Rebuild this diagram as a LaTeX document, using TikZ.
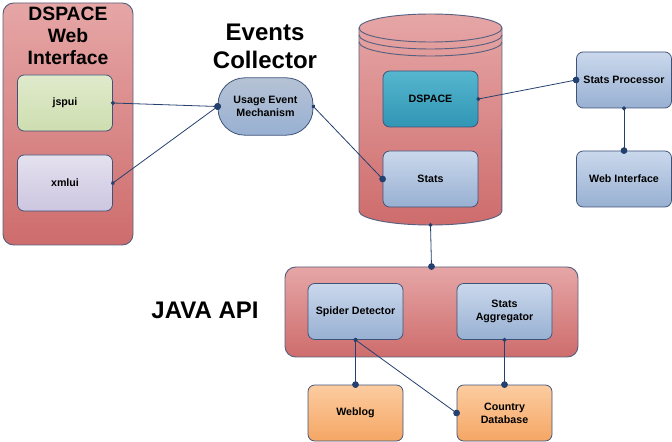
\documentclass[tikz,border=0pt]{standalone}
\usepackage{fontspec}
\setmainfont{Liberation Sans}
\usetikzlibrary{arrows.meta}

\definecolor{redtop}{RGB}{230,166,166}
\definecolor{redbot}{RGB}{206,108,108}
\definecolor{frame}{RGB}{88,96,128}
\definecolor{boxline}{RGB}{62,82,122}
\definecolor{bluetop}{RGB}{202,216,236}
\definecolor{bluebot}{RGB}{152,176,210}
\definecolor{greentop}{RGB}{224,234,204}
\definecolor{greenbot}{RGB}{206,222,176}
\definecolor{lavtop}{RGB}{228,225,239}
\definecolor{lavbot}{RGB}{204,198,224}
\definecolor{tealtop}{RGB}{86,182,206}
\definecolor{tealbot}{RGB}{48,150,180}
\definecolor{orangetop}{RGB}{252,204,160}
\definecolor{orangebot}{RGB}{245,166,100}
\definecolor{linkcol}{RGB}{36,64,110}

\begin{document}
\begin{tikzpicture}[x=0.75pt,y=-0.75pt,
  outer box/.style={rounded corners=8pt,draw=frame,line width=0.7pt,top color=redtop,bottom color=redbot},
  inner box/.style={rounded corners=5pt,draw=boxline,line width=0.6pt,minimum width=71.25pt,minimum height=42pt,
    font=\bfseries\fontsize{8}{10}\selectfont,align=center,inner sep=1pt},
  blue box/.style={inner box,top color=bluetop,bottom color=bluebot},
  orange box/.style={inner box,top color=orangetop,bottom color=orangebot},
  title/.style={font=\bfseries\fontsize{18}{21}\selectfont,align=center},
  link/.style={draw=linkcol,line width=0.6pt,{Circle[length=3pt]}-{Circle[length=5pt]},
    shorten <=-1.5pt,shorten >=-2.5pt}]

  \useasboundingbox (0,0) rectangle (672,442);

  % web interface side
  \node[outer box,minimum width=97.5pt,minimum height=181.5pt] (web) at (68,124) {};
  \node[title,font=\bfseries\fontsize{14.5}{16.5}\selectfont] (webtitle) at (68,36) {DSPACE\\Web\\Interface};
  \node[inner box,top color=greentop,bottom color=greenbot] (jspui) at (65,103) {jspui};
  \node[inner box,top color=lavtop,bottom color=lavbot] (xmlui) at (65,183) {xmlui};

  % collector
  \node[title] (colltitle) at (265,46) {Events\\Collector};
  \node[inner box,rounded corners=20pt,minimum height=43pt,top color=bluetop!90!black,bottom color=bluebot] (uem) at (265.5,106.5) {Usage Event\\Mechanism};

  % database
  \shade[top color=redtop,bottom color=redbot,draw=frame,line width=0.7pt]
    (359,28) -- (359,211) arc[start angle=180,end angle=360,x radius=53.6pt,y radius=10.5pt]
    -- (502,28) arc[start angle=0,end angle=180,x radius=53.6pt,y radius=10.5pt] -- cycle;
  \foreach \dy in {0,7,14}
    \draw[frame,line width=0.7pt] (359,28+\dy) arc[start angle=180,end angle=360,x radius=53.6pt,y radius=10.5pt];
  \coordinate (dbbottom) at (430.5,225);
  \node[inner box,top color=tealtop,bottom color=tealbot] (dspace) at (430.5,99) {DSPACE};
  \node[blue box] (stats) at (430.5,179) {Stats};

  \node[blue box] (proc) at (624,80) {Stats Processor};
  \node[blue box] (webint) at (624,179) {Web Interface};

  % java api
  \node[title] (javatitle) at (205,310) {JAVA API};
  \node[outer box,minimum width=219.75pt,minimum height=67.5pt] (java) at (431.5,312) {};
  \node[blue box] (spider) at (355.5,311.5) {Spider Detector};
  \node[blue box] (aggr) at (504.5,311.5) {Stats\\Aggregator};
  \node[orange box] (weblog) at (355.5,413) {Weblog};
  \node[orange box] (country) at (504.5,413) {Country\\Database};

  \path
   (jspui.east) edge[link] (uem.west)
   (xmlui.east) edge[link] (uem.west)
   (uem.east) edge[link] (stats.west)
   (dspace.east) edge[link] (proc.west)
   (proc.south) edge[link] (webint.north)
   (dbbottom) edge[link] (java.north)
   (spider.south) edge[link] (weblog.north)
   (spider.south) edge[link] (country.west)
   (aggr.south) edge[link] (country.north);
\end{tikzpicture}
\end{document}
